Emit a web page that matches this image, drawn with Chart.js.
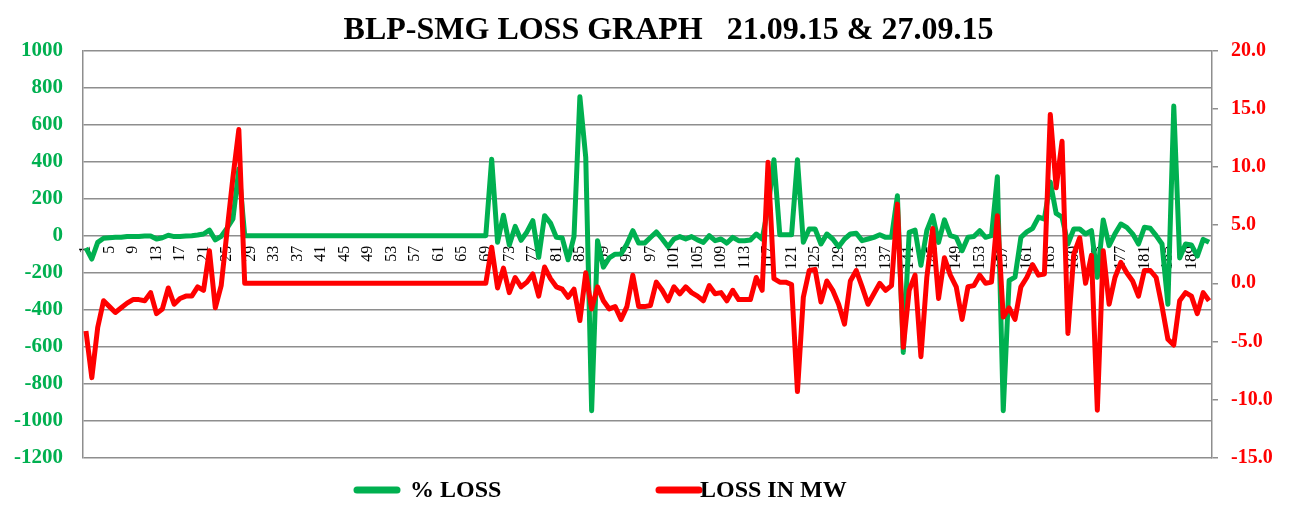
<!DOCTYPE html>
<html>
<head>
<meta charset="utf-8">
<script src="https://cdn.jsdelivr.net/npm/chart.js@4.4.0/dist/chart.umd.min.js"></script>
<style>
  html, body { margin: 0; padding: 0; background: #fff; }
  #wrap { width: 1289px; height: 506px; }
</style>
</head>
<body>
<div id="wrap"><canvas id="lossChart" width="1289" height="506"></canvas></div>
<script>
// hourly blocks, 21.09.15 to 27.09.15
const hours = Array.from({ length: 192 }, (_, i) => String(i + 1));

// % LOSS (left axis)
const pctLoss = [
  -66, -126, -36, -14, -11, -9, -9, -5, -4, -4,
  -2, -2, -18, -11, 2, -5, -4, -2, 0, 4,
  9, 30, -23, -4, 41, 90, 360,
  0, 0, 0, 0, 0, 0, 0, 0, 0, 0, 0, 0, 0, 0, 0, 0, 0, 0, 0, 0, 0,
  0, 0, 0, 0, 0, 0, 0, 0, 0, 0, 0, 0, 0, 0, 0, 0, 0, 0, 0, 0, 0,
  413, -36, 110, -50, 50, -25, 20, 81, -117, 108, 68,
  -9, -13, -130, -5, 750, 422, -945, -27, -170, -120,
  -100, -99, -45, 27, -40, -40, -10, 20, -18, -60,
  -18, -5, -18, -5, -23, -36, 0, -27, -18, -40,
  -9, -27, -27, -23, 9, -18, 150, 410, 5, 5,
  5, 410, -36, 36, 36, -45, 9, -18, -60, -18,
  9, 13, -27, -18, -9, 5, -9, -9, 215, -630,
  18, 30, -160, 27, 108, -36, 85, 0, -9, -81,
  -9, -5, 27, -9, 0, 318, -945, -242, -224, -9,
  20, 40, 100, 90, 290, 120, 100, -45, 36, 36,
  9, 27, -225, 85, -54, 10, 63, 45, 10, -45,
  45, 40, 0, -45, -370, 700, -120, -45, -50, -110,
  -20, -36
];

// LOSS IN MW (right axis)
const lossMw = [
  -4.1, -8.1, -3.8, -1.5, -2.0, -2.5, -2.1, -1.7, -1.4, -1.4,
  -1.5, -0.8, -2.6, -2.2, -0.4, -1.8, -1.3, -1.1, -1.1, -0.3,
  -0.6, 2.8, -2.1, -0.2, 4.5, 9.1, 13.2,
  0, 0, 0, 0, 0, 0, 0, 0, 0, 0, 0, 0, 0, 0, 0, 0, 0, 0, 0, 0, 0,
  0, 0, 0, 0, 0, 0, 0, 0, 0, 0, 0, 0, 0, 0, 0, 0, 0, 0, 0, 0, 0,
  3.1, -0.4, 1.3, -0.8, 0.5, -0.3, 0.1, 0.8, -1.1, 1.4, 0.4,
  -0.3, -0.5, -1.2, -0.5, -3.2, 0.9, -2.2, -0.3, -1.5, -2.2,
  -2.0, -3.1, -2.0, 0.7, -2.0, -2.0, -1.9, 0.1, -0.6, -1.5,
  -0.3, -0.9, -0.3, -0.8, -1.1, -1.5, -0.2, -0.9, -0.8, -1.5,
  -0.6, -1.4, -1.4, -1.4, 0.5, -0.6, 10.4, 0.4, 0.1, 0.1,
  -0.1, -9.3, -1.2, 1.1, 1.2, -1.6, 0.2, -0.6, -1.8, -3.5,
  0.2, 1.1, -0.3, -1.8, -0.9, 0.0, -0.6, -0.2, 6.8, -5.5,
  -0.6, 0.7, -6.3, 0.5, 4.7, -1.3, 2.2, 0.7, -0.3, -3.1,
  -0.3, -0.2, 0.7, 0.0, 0.1, 5.8, -2.9, -2.1, -3.1, -0.3,
  0.5, 1.6, 0.7, 0.8, 14.5, 8.2, 12.2, -4.3, 2.5, 3.9,
  0.0, 2.4, -10.9, 2.8, -1.8, 0.5, 1.8, 0.9, 0.2, -1.1,
  1.1, 1.1, 0.5, -2.0, -4.8, -5.3, -1.5, -0.8, -1.1, -2.6,
  -0.8, -1.5
];

const leftTicks = [-1200, -1000, -800, -600, -400, -200, 0, 200, 400, 600, 800, 1000];
const rightTicks = [-15, -10, -5, 0, 5, 10, 15, 20];

const GREEN = '#00b050';
const RED = '#ff0000';
const GRID = '#8e8e8e';
const SERIF = "'Liberation Serif', 'DejaVu Serif', serif";

// legend drawn by hand so it sits where the original one is
const bottomLegend = {
  id: 'bottomLegend',
  afterDraw(chart) {
    const ctx = chart.ctx;
    const items = [
      { ds: chart.data.datasets[0], x0: 357, x1: 397, tx: 410 },
      { ds: chart.data.datasets[1], x0: 659, x1: 699, tx: 700 }
    ];
    const y = 490;
    ctx.save();
    items.forEach(it => {
      ctx.strokeStyle = it.ds.borderColor;
      ctx.lineWidth = 7;
      ctx.lineCap = 'round';
      ctx.beginPath();
      ctx.moveTo(it.x0, y);
      ctx.lineTo(it.x1, y);
      ctx.stroke();
      ctx.fillStyle = '#000';
      ctx.font = 'bold 24px ' + SERIF;
      ctx.textBaseline = 'middle';
      ctx.textAlign = 'left';
      ctx.fillText(it.ds.label, it.tx, y + 1);
    });
    ctx.restore();
  }
};

new Chart(document.getElementById('lossChart'), {
  type: 'line',
  data: {
    labels: hours,
    datasets: [
      {
        label: '% LOSS',
        data: pctLoss,
        yAxisID: 'y',
        borderColor: GREEN,
        backgroundColor: GREEN,
        borderWidth: 5,
        pointRadius: 0,
        tension: 0,
        borderJoinStyle: 'round',
        order: 2
      },
      {
        label: 'LOSS IN MW',
        data: lossMw,
        yAxisID: 'y1',
        borderColor: RED,
        backgroundColor: RED,
        borderWidth: 5,
        pointRadius: 0,
        tension: 0,
        borderJoinStyle: 'round',
        order: 1
      }
    ]
  },
  options: {
    responsive: false,
    devicePixelRatio: 1,
    animation: false,
    layout: { padding: { left: 0, right: 0, top: 0, bottom: 48 } },
    plugins: {
      legend: { display: false },
      tooltip: { enabled: false },
      title: {
        display: true,
        text: '      BLP-SMG LOSS GRAPH   21.09.15 & 27.09.15',
        color: '#000',
        font: { family: SERIF, size: 32, weight: 'bold' },
        padding: { top: 12, bottom: 0 }
      }
    },
    scales: {
      x: {
        type: 'category',
        position: { y: 0 },
        offset: true,
        grid: { display: false, drawTicks: false },
        border: { display: false },
        ticks: {
          autoSkip: false,
          maxRotation: 90,
          minRotation: 90,
          padding: 10,
          color: '#000',
          font: { family: SERIF, size: 16 },
          callback: (v, i) => (i % 4 === 0 ? hours[i] : '')
        }
      },
      y: {
        position: 'left',
        min: leftTicks[0],
        max: leftTicks[leftTicks.length - 1],
        afterFit: s => { s.width = 83; },
        grid: { color: GRID, lineWidth: 1.5, drawTicks: false },
        border: { display: true, color: GRID, width: 1.5 },
        ticks: {
          stepSize: 200,
          padding: 20,
          color: GREEN,
          font: { family: SERIF, size: 21, weight: 'bold' },
          callback: v => String(v)
        }
      },
      y1: {
        position: 'right',
        min: rightTicks[0],
        max: rightTicks[rightTicks.length - 1],
        afterFit: s => { s.width = 77; },
        grid: { drawOnChartArea: false, drawTicks: true, tickLength: 6, color: GRID, lineWidth: 1.5 },
        border: { display: true, color: GRID, width: 1.5 },
        ticks: {
          stepSize: 5,
          padding: 13,
          color: RED,
          font: { family: SERIF, size: 20, weight: 'bold' },
          callback: v => v.toFixed(1)
        }
      }
    }
  },
  plugins: [bottomLegend]
});
</script>
</body>
</html>
